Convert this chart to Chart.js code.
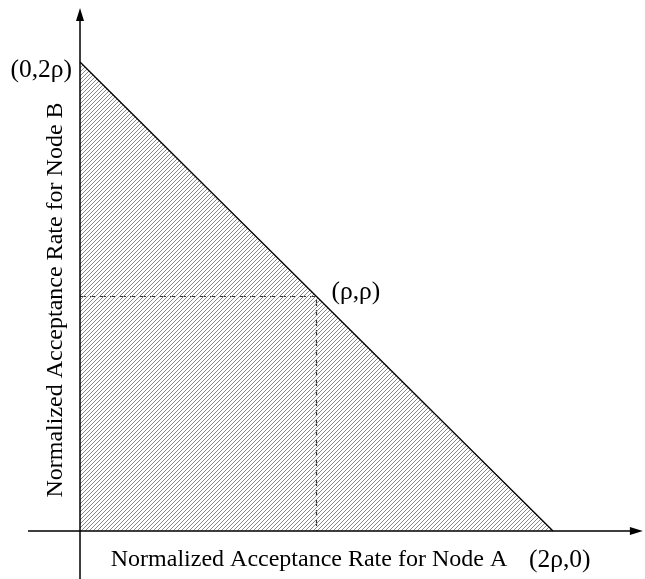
<!DOCTYPE html>
<html>
<head>
<meta charset="utf-8">
<script src="https://cdn.jsdelivr.net/npm/chart.js@4/dist/chart.umd.min.js"></script>
<style>
  html, body { margin: 0; padding: 0; background: #fff; }
  #wrap { width: 645px; height: 579px; position: relative; }
</style>
</head>
<body>
<div id="wrap"><canvas id="regionChart"></canvas></div>
<script>
// region boundary: rate A + rate B <= 2ρ
const boundaryX = [0, 1, 2];
const boundaryY = [2, 1, 0];
// dashed guide through (ρ,ρ)
const guideX = [0, 1, 1];
const guideY = [1, 1, 0];
// corner labels
const cornerLabels = ['(0,2ρ)', '(ρ,ρ)', '(2ρ,0)'];
const xTitle = 'Normalized Acceptance Rate for Node A';
const yTitle = 'Normalized Acceptance Rate for Node B';

// visible extent of the data axes (in units of ρ)
const xRange = [-0.3383, 2.389];
const yRange = [-0.2047, 2.2644];
const xAxisSpan = [-0.22, 2.38];
const yAxisSpan = [-0.21, 2.23];

const serif = "'Liberation Serif', 'Times New Roman', serif";

function makeHatch() {
    const c = document.createElement('canvas');
    c.width = 4; c.height = 4;
    const g = c.getContext('2d');
    g.strokeStyle = '#8a8a8a';
    g.lineWidth = 1;
    g.beginPath();
    g.moveTo(-1, 5); g.lineTo(5, -1);
    g.moveTo(-1, 1); g.lineTo(1, -1);
    g.moveTo(3, 5); g.lineTo(5, 3);
    g.stroke();
    return g.createPattern(c, 'repeat');
}

const axesAndLabels = {
    id: 'axesAndLabels',
    afterDatasetsDraw(chart) {
        const ctx = chart.ctx;
        const xs = chart.scales.x, ys = chart.scales.y;
        const x0 = xs.getPixelForValue(0), y0 = ys.getPixelForValue(0);
        const xEnd = xs.getPixelForValue(xAxisSpan[1]);
        const yEnd = ys.getPixelForValue(yAxisSpan[1]);
        ctx.save();
        ctx.strokeStyle = '#000';
        ctx.fillStyle = '#000';
        ctx.lineWidth = 1.5;
        // axes
        ctx.beginPath();
        ctx.moveTo(xs.getPixelForValue(xAxisSpan[0]), y0);
        ctx.lineTo(xEnd - 8, y0);
        ctx.moveTo(x0, ys.getPixelForValue(yAxisSpan[0]));
        ctx.lineTo(x0, yEnd + 8);
        ctx.stroke();
        // arrow heads
        ctx.beginPath();
        ctx.moveTo(xEnd, y0);
        ctx.lineTo(xEnd - 13, y0 - 4);
        ctx.lineTo(xEnd - 13, y0 + 4);
        ctx.closePath();
        ctx.moveTo(x0, yEnd);
        ctx.lineTo(x0 - 4, yEnd + 13);
        ctx.lineTo(x0 + 4, yEnd + 13);
        ctx.closePath();
        ctx.fill();

        ctx.textBaseline = 'alphabetic';
        // corner labels
        ctx.font = '25.5px ' + serif;
        ctx.textAlign = 'right';
        ctx.fillText(cornerLabels[0], xs.getPixelForValue(boundaryX[0]) - 8, ys.getPixelForValue(boundaryY[0]) + 15);
        ctx.textAlign = 'left';
        ctx.fillText(cornerLabels[1], xs.getPixelForValue(boundaryX[1]) + 15, ys.getPixelForValue(boundaryY[1]) + 3);
        ctx.fillText(cornerLabels[2], xs.getPixelForValue(boundaryX[2]) - 24, ys.getPixelForValue(boundaryY[2]) + 36);
        // axis titles
        ctx.font = '24px ' + serif;
        ctx.textAlign = 'center';
        ctx.fillText(xTitle, 309, y0 + 35);
        ctx.translate(62, 300);
        ctx.rotate(-Math.PI / 2);
        ctx.fillText(yTitle, 0, 0);
        ctx.restore();
    }
};

new Chart(document.getElementById('regionChart'), {
    type: 'line',
    data: {
        datasets: [{
            data: boundaryX.map((x, i) => ({ x: x, y: boundaryY[i] })),
            borderColor: '#000',
            borderWidth: 1.3,
            backgroundColor: makeHatch(),
            fill: 'origin',
            pointRadius: 0,
            tension: 0
        }, {
            data: guideX.map((x, i) => ({ x: x, y: guideY[i] })),
            borderColor: '#333',
            borderWidth: 1.2,
            borderDash: [6, 4],
            fill: false,
            pointRadius: 0,
            tension: 0
        }]
    },
    options: {
        responsive: true,
        maintainAspectRatio: false,
        animation: false,
        layout: { padding: 0 },
        plugins: { legend: { display: false }, tooltip: { enabled: false } },
        scales: {
            x: { type: 'linear', min: xRange[0], max: xRange[1], display: false },
            y: { type: 'linear', min: yRange[0], max: yRange[1], display: false }
        }
    },
    plugins: [axesAndLabels]
});
</script>
</body>
</html>
